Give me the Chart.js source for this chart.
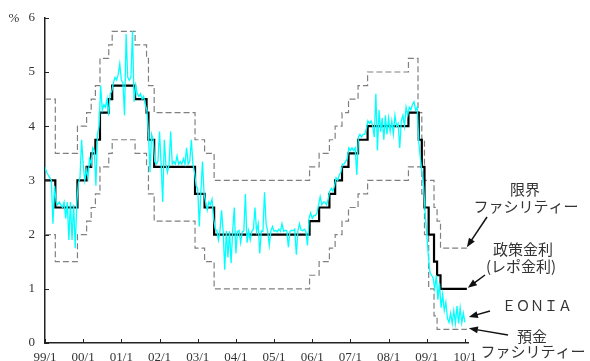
<!DOCTYPE html>
<html>
<head>
<meta charset="utf-8">
<script src="https://cdn.jsdelivr.net/npm/chart.js@4.4.0/dist/chart.umd.min.js"></script>
<style>
  html, body { margin: 0; padding: 0; background: #fff; }
</style>
</head>
<body>
<canvas id="rateChart" width="590" height="361"></canvas>
<script>
// policy rate change dates (decimal years) and levels after each change
const rateDates = [1999.0, 1999.27, 1999.85, 2000.09, 2000.21, 2000.32, 2000.44, 2000.67, 2000.76,
  2001.36, 2001.66, 2001.71, 2001.86, 2002.93, 2003.18, 2003.43, 2005.93, 2006.18, 2006.45,
  2006.6, 2006.78, 2006.95, 2007.2, 2007.45, 2008.52, 2008.77, 2008.79, 2008.87, 2008.94,
  2009.05, 2009.19, 2009.27, 2009.36, 2010.05];
const repoRate = [3.0, 2.5, 3.0, 3.25, 3.5, 3.75, 4.25, 4.5, 4.75, 4.5, 4.25, 3.75, 3.25, 2.75,
  2.5, 2.0, 2.25, 2.5, 2.75, 3.0, 3.25, 3.5, 3.75, 4.0, 4.25, 4.25, 3.75, 3.25, 2.5, 2.0, 1.5,
  1.25, 1.0, 1.0];
const lendingRate = [4.5, 3.5, 4.0, 4.25, 4.5, 4.75, 5.25, 5.5, 5.75, 5.5, 5.25, 4.75, 4.25, 3.75,
  3.5, 3.0, 3.25, 3.5, 3.75, 4.0, 4.25, 4.5, 4.75, 5.0, 5.25, 4.25, 4.25, 3.75, 3.0, 3.0, 2.5,
  2.25, 1.75, 1.75];
const depositRate = [2.0, 1.5, 2.0, 2.25, 2.5, 2.75, 3.25, 3.5, 3.75, 3.5, 3.25, 2.75, 2.25, 1.75,
  1.5, 1.0, 1.25, 1.5, 1.75, 2.0, 2.25, 2.5, 2.75, 3.0, 3.25, 3.25, 3.25, 2.75, 2.0, 1.0, 0.5,
  0.25, 0.25, 0.25];

const eonia1999 = [3.25, 3.15, 3.1, 3.05, 3.0, 2.2, 2.9, 2.6, 2.55, 2.6, 2.55, 2.5, 2.6, 2.3, 2.6, 1.9, 2.6, 1.9, 2.55, 1.75, 2.6, 2.95, 3.05, 3.75];
const eonia2000 = [3.3, 3.0, 3.2, 3.05, 3.4, 3.3, 3.6, 3.55, 2.9, 3.85, 4.0, 4.75, 4.3, 4.4, 4.35, 4.5, 4.2, 4.6, 4.65, 4.8, 4.9, 4.85, 4.95, 5.15];
const eonia2001 = [4.85, 4.8, 4.2, 5.7, 4.9, 4.85, 4.9, 5.75, 4.45, 4.75, 4.6, 4.55, 4.6, 4.5, 4.55, 4.4, 4.3, 3.9, 3.15, 3.85, 3.75, 3.35, 3.3, 3.35];
const eonia2002 = [3.9, 3.3, 2.6, 3.75, 3.3, 3.15, 3.3, 3.9, 3.3, 3.35, 3.3, 3.45, 3.3, 3.35, 3.3, 3.4, 3.3, 3.6, 3.3, 3.35, 3.75, 3.3, 3.15, 2.9];
const eonia2003 = [2.85, 2.15, 2.8, 3.35, 2.75, 2.6, 2.45, 2.6, 2.55, 2.65, 2.3, 2.1, 2.08, 1.9, 2.07, 2.45, 2.06, 1.35, 2.07, 1.58, 2.06, 1.47, 2.08, 2.5];
const eonia2004 = [1.65, 2.06, 2.08, 1.85, 2.05, 2.07, 2.75, 1.85, 2.07, 1.9, 2.06, 2.1, 2.5, 2.06, 2.2, 1.65, 2.07, 2.06, 2.78, 2.2, 2.06, 1.8, 2.07, 2.15];
const eonia2005 = [2.06, 2.08, 2.05, 2.1, 2.06, 2.2, 2.06, 2.08, 2.07, 1.77, 2.06, 2.08, 2.07, 2.1, 1.63, 2.07, 2.2, 2.08, 2.07, 2.1, 2.06, 1.8, 2.3, 2.4];
const eonia2006 = [2.3, 2.35, 2.35, 2.4, 2.55, 2.7, 2.55, 2.6, 2.6, 2.55, 2.65, 2.8, 2.85, 2.8, 2.9, 3.05, 3.0, 3.1, 3.15, 3.3, 3.3, 3.35, 3.4, 3.6];
const eonia2007 = [3.55, 3.6, 3.55, 3.6, 3.1, 3.8, 3.85, 3.8, 3.85, 3.85, 3.95, 4.1, 4.05, 4.1, 4.0, 3.8, 4.6, 3.55, 4.3, 3.9, 4.15, 3.75, 4.2, 3.85];
const eonia2008 = [4.15, 3.9, 4.1, 3.85, 4.2, 4.0, 4.05, 3.6, 4.1, 4.2, 4.0, 4.35, 4.2, 4.35, 4.3, 4.4, 4.45, 4.3, 4.35, 3.7, 3.4, 3.15, 2.9, 2.4];
const eonia2009 = [2.0, 1.6, 1.3, 1.25, 1.2, 1.0, 1.25, 0.8, 1.1, 0.65, 0.9, 0.6, 0.75, 0.45, 0.38, 0.55, 0.36, 0.6, 0.36, 0.68, 0.36, 0.65, 0.37, 0.55];
const eonia2010 = [0.38];

const yearTicks = [1999, 2000, 2001, 2002, 2003, 2004, 2005, 2006, 2007, 2008, 2009, 2010];

const eoniaYears = [eonia1999, eonia2000, eonia2001, eonia2002, eonia2003, eonia2004,
  eonia2005, eonia2006, eonia2007, eonia2008, eonia2009, eonia2010];
const eoniaPoints = eoniaYears.flatMap((vals, k) =>
  vals.map((v, i) => ({ x: 1999 + k + i / 24, y: v })));

const steps = (vals) => rateDates.map((d, i) => ({ x: d, y: vals[i] }));

const serif = "'Liberation Serif', 'DejaVu Serif', serif";
const jp = "'Noto Sans CJK JP', sans-serif";

function arrow(ctx, x1, y1, x2, y2) {
  const a = Math.atan2(y2 - y1, x2 - x1);
  ctx.beginPath();
  ctx.moveTo(x1, y1);
  ctx.lineTo(x2 - 6 * Math.cos(a), y2 - 6 * Math.sin(a));
  ctx.stroke();
  ctx.beginPath();
  ctx.moveTo(x2, y2);
  ctx.lineTo(x2 - 9 * Math.cos(a) + 3.5 * Math.sin(a), y2 - 9 * Math.sin(a) - 3.5 * Math.cos(a));
  ctx.lineTo(x2 - 9 * Math.cos(a) - 3.5 * Math.sin(a), y2 - 9 * Math.sin(a) + 3.5 * Math.cos(a));
  ctx.closePath();
  ctx.fill();
}

const extras = {
  id: "extras",
  afterDraw(chart) {
    const { ctx } = chart;
    const xs = chart.scales.x;
    const ys = chart.scales.y;
    ctx.save();
    // inward tick marks
    ctx.strokeStyle = "#222";
    ctx.lineWidth = 1;
    ys.ticks.forEach((t) => {
      const py = Math.round(ys.getPixelForValue(t.value)) + 0.5;
      ctx.beginPath();
      ctx.moveTo(xs.left, py);
      ctx.lineTo(xs.left + 4, py);
      ctx.stroke();
    });
    xs.ticks.forEach((t) => {
      const px = Math.round(xs.getPixelForValue(t.value)) + 0.5;
      ctx.beginPath();
      ctx.moveTo(px, ys.bottom);
      ctx.lineTo(px, ys.bottom - 4);
      ctx.stroke();
    });

    ctx.fillStyle = "#333";
    ctx.font = "13px " + serif;
    ctx.textAlign = "center";
    ctx.textBaseline = "middle";
    ctx.fillText("%", 14, 19);

    // series labels
    ctx.font = "15px " + jp;
    ctx.fillText("限界", 525, 189);
    ctx.fillText("ファシリティー", 526, 206);
    ctx.fillText("政策金利", 523, 249);
    ctx.fillText("(レポ金利)", 521, 266);
    ctx.fillText("預金", 532, 336);
    ctx.fillText("ファシリティー", 533, 351);
    ctx.font = "14px " + jp;
    ctx.fillText("ＥＯＮＩＡ", 537, 306);

    ctx.strokeStyle = "#111";
    ctx.fillStyle = "#111";
    ctx.lineWidth = 1.5;
    const endX = xs.getPixelForValue(2010.05);
    arrow(ctx, 487, 217, endX, ys.getPixelForValue(1.75) - 1);
    arrow(ctx, 485, 275, endX + 1, ys.getPixelForValue(1.0) - 1);
    arrow(ctx, 490, 311, endX + 2, ys.getPixelForValue(0.48));
    arrow(ctx, 508, 335, endX + 2, ys.getPixelForValue(0.27));
    ctx.restore();
  },
};

new Chart(document.getElementById("rateChart"), {
  type: "line",
  data: {
    datasets: [
      {
        label: "EONIA",
        data: eoniaPoints,
        borderColor: "#00FFFF",
        borderWidth: 1.3,
        pointRadius: 0,
        tension: 0,
      },
      {
        label: "政策金利",
        data: steps(repoRate),
        borderColor: "#000000",
        borderWidth: 2.2,
        pointRadius: 0,
        stepped: true,
      },
      {
        label: "限界ファシリティー",
        data: steps(lendingRate),
        borderColor: "#808080",
        borderWidth: 1.2,
        borderDash: [6, 3],
        pointRadius: 0,
        stepped: true,
      },
      {
        label: "預金ファシリティー",
        data: steps(depositRate),
        borderColor: "#808080",
        borderWidth: 1.2,
        borderDash: [6, 3],
        pointRadius: 0,
        stepped: true,
      },
    ],
  },
  options: {
    responsive: false,
    animation: false,
    layout: { padding: { top: 17, right: 122, left: 0, bottom: 0 } },
    plugins: { legend: { display: false }, tooltip: { enabled: false } },
    scales: {
      x: {
        type: "linear",
        min: 1999,
        max: 2010.08,
        afterFit: (scale) => { scale.height = 18; },
        afterBuildTicks: (scale) => { scale.ticks = yearTicks.map((v) => ({ value: v })); },
        grid: { drawOnChartArea: false, drawTicks: false },
        border: { display: true, color: "#222", width: 1.5 },
        ticks: {
          padding: 7,
          color: "#333",
          font: { family: serif, size: 13 },
          maxRotation: 0,
          autoSkip: false,
          callback: (v) => String(v % 100).padStart(2, "0") + "/1",
        },
      },
      y: {
        min: 0,
        max: 6,
        afterFit: (scale) => { scale.width = 45; },
        grid: { drawOnChartArea: false, drawTicks: false },
        border: { display: true, color: "#222", width: 1.5 },
        ticks: {
          stepSize: 1,
          padding: 10,
          color: "#333",
          font: { family: serif, size: 13 },
        },
      },
    },
  },
  plugins: [extras],
});
</script>
</body>
</html>
